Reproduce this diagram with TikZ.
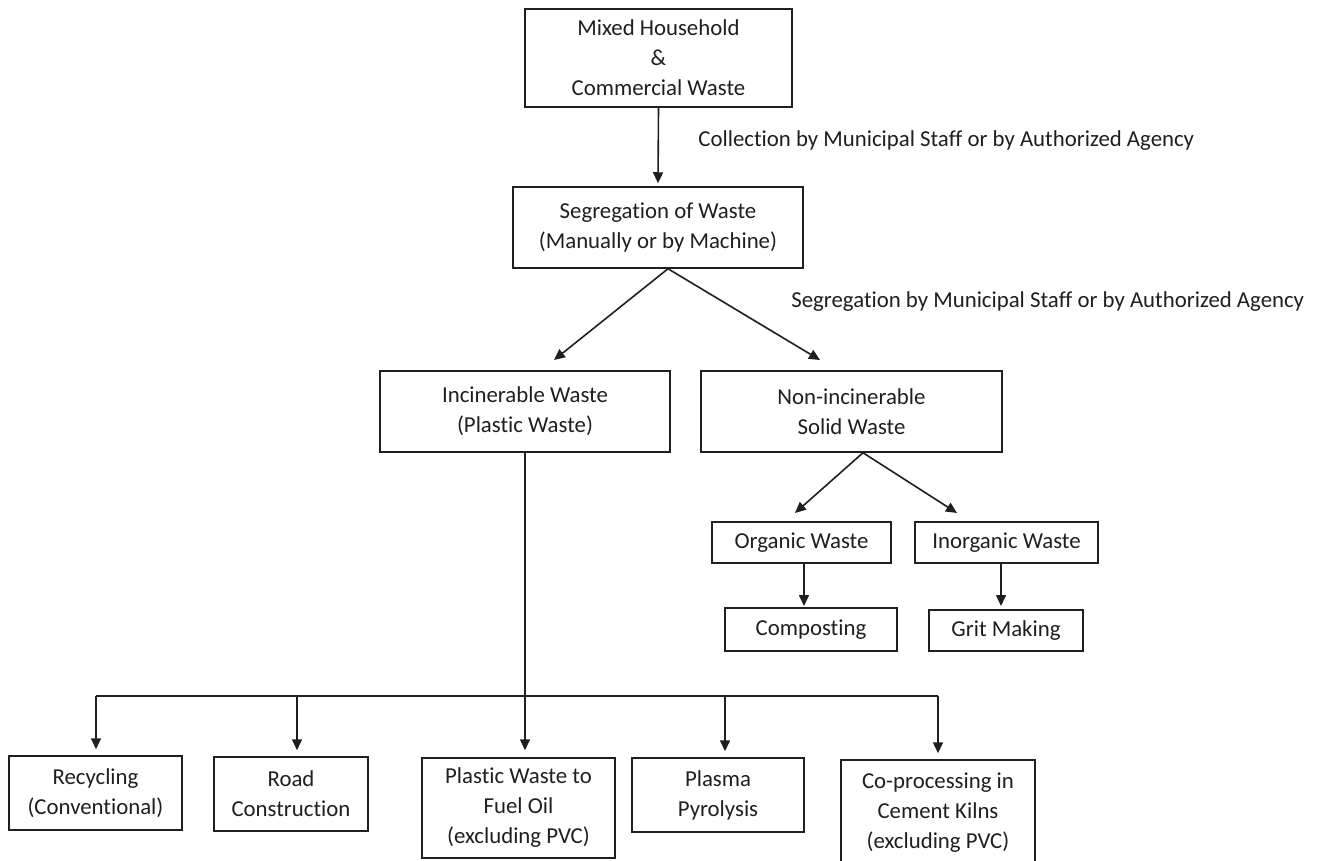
\documentclass[tikz,border=0pt]{standalone}
\usepackage{fontspec}
\setmainfont{Carlito}[Ligatures=NoCommon]
\usetikzlibrary{arrows.meta,calc}
\definecolor{ink}{gray}{0.12}
\tikzset{
  bx/.style n args={2}{draw=ink, line width=0.75pt, minimum width=#1*0.5pt, minimum height=#2*0.5pt,
    inner sep=0pt, align=center, text=ink, font=\fontsize{11.4}{15}\selectfont},
  lbl/.style={anchor=west, inner sep=0pt, text=ink, font=\fontsize{11.4}{15}\selectfont},
  arr/.style={draw=ink, line width=0.8pt, -{Triangle[length=5.5pt,width=5pt]}},
  ln/.style={draw=ink, line width=0.8pt}
}
\begin{document}
\begin{tikzpicture}[x=0.5pt,y=-0.5pt]
\useasboundingbox (0,0) rectangle (1324,861);
\fill[white] (0,0) rectangle (1324,861);
% boxes
\node[bx={267}{98}] (top) at (658.5,58) {Mixed Household\\\&\\Commercial Waste};
\node[bx={290}{81}] (seg) at (658,227.5) {Segregation of Waste\\(Manually or by Machine)};
\node[bx={290}{81}] (inc) at (525,411.5) {Incinerable Waste\\(Plastic Waste)};
\node[bx={301}{81}] (non) at (851.5,411.5) {Non-incinerable\\Solid Waste};
\node[bx={179}{41}] (org) at (801.5,542.5) {Organic Waste};
\node[bx={183}{41}] (inorg) at (1006.5,542.5) {Inorganic Waste};
\node[bx={172}{43}] (comp) at (811,629.5) {Composting};
\node[bx={154}{41}] (grit) at (1006,630.5) {Grit Making};
\node[bx={173}{74}] (rec) at (95.5,793) {Recycling\\(Conventional)};
\node[bx={154}{74}] (road) at (291,794) {Road\\Construction};
\node[bx={193}{100}] (fuel) at (518.5,808) {Plastic Waste to\\Fuel Oil\\(excluding PVC)};
\node[bx={172}{74}] (plasma) at (718,795) {Plasma\\Pyrolysis};
\node[bx={194}{106}] (cop) at (938,813) {Co-processing in\\Cement Kilns\\(excluding PVC)};
% labels
\node[lbl] (lab1) at (698,141) {Collection by Municipal Staff or by Authorized Agency};
\node[lbl] (lab2) at (791,302) {Segregation by Municipal Staff or by Authorized Agency};
% connectors
\draw[arr, shorten >=1.5pt] (top.south) -- (seg.north);
\coordinate (ap1) at ($(seg.south)+(10,0)$);
\coordinate (t1) at (554,360);
\coordinate (t2) at (820,360);
\draw[arr] (ap1) -- (t1);
\draw[arr] (ap1) -- (t2);
\coordinate (ap2) at ($(non.south)+(11.5,0)$);
\coordinate (t3) at (795,513);
\coordinate (t4) at (957,513);
\draw[arr] (ap2) -- (t3);
\draw[arr] (ap2) -- (t4);
\coordinate (o1) at (804,563);
\coordinate (o2) at (804,608);
\coordinate (i1) at (1001,563);
\coordinate (i2) at (1001,610);
\draw[arr, shorten >=1pt] (o1) -- (o2);
\draw[arr, shorten >=2pt] (i1) -- (i2);
% bus
\coordinate (b1) at (96,696);
\coordinate (b2) at (297,696);
\coordinate (b3) at (525,696);
\coordinate (b4) at (725,696);
\coordinate (b5) at (938,696);
\draw[ln] (b1) -- (b5);
\draw[arr, shorten >=3.5pt] (inc.south) -- (inc.south |- fuel.north);
\draw[arr, shorten >=3pt] (b1) -- (b1 |- rec.north);
\draw[arr, shorten >=3pt] (b2) -- (b2 |- road.north);
\draw[arr, shorten >=3pt] (b4) -- (b4 |- plasma.north);
\draw[arr, shorten >=3pt] (b5) -- (b5 |- cop.north);
\end{tikzpicture}
\end{document}
